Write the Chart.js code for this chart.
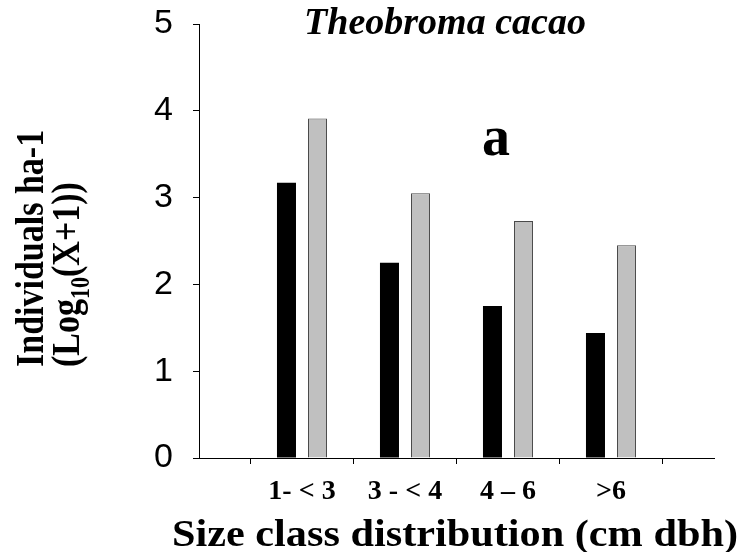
<!DOCTYPE html>
<html><head><meta charset="utf-8">
<script src="https://cdn.jsdelivr.net/npm/chart.js@4/dist/chart.umd.min.js"></script>
<style>html,body{margin:0;padding:0;background:#fff}#wrap{width:742px;height:552px}</style>
</head><body><div id="wrap"><canvas id="c" width="742" height="552"></canvas></div>
<script>
const categories = ['', '1- < 3', '3 - < 4', '4 \u2013 6', '>6', ''];
const blackSeries = [null, 3.17, 2.25, 1.75, 1.44, null];
const graySeries = [null, 3.91, 3.05, 2.73, 2.45, null];
const yTickValues = [0, 1, 2, 3, 4, 5];
const titleText = 'Theobroma cacao';
const panelLetter = 'a';
const xTitle = 'Size class distribution (cm dbh)';
const yTitleLine1 = 'Individuals ha-1';
const yTitleLine2 = ['(Log', '10', '(X+1))'];

const serif = '"Liberation Serif", "Times New Roman", serif';

function fitText(ctx, text, font, x, y, targetWidth, align) {
  ctx.font = font;
  const w = ctx.measureText(text).width;
  const s = targetWidth ? targetWidth / w : 1;
  ctx.save();
  ctx.translate(x, y);
  ctx.scale(s, 1);
  ctx.textAlign = align || 'center';
  ctx.textBaseline = 'alphabetic';
  ctx.fillText(text, 0, 0);
  ctx.restore();
}

const textPlugin = {
  id: 'texts',
  afterDraw(chart) {
    const ctx = chart.ctx;
    ctx.save();
    ctx.fillStyle = '#000';
    fitText(ctx, titleText, 'italic bold 38px ' + serif, 445, 34, 0, 'center');
    fitText(ctx, panelLetter, 'bold 56px ' + serif, 496, 155, 0, 'center');
    fitText(ctx, xTitle, 'bold 38px ' + serif, 455, 546, 566, 'center');
    // y title, rotated
    ctx.save();
    ctx.translate(43, 367);
    ctx.rotate(-Math.PI / 2);
    ctx.textAlign = 'left';
    ctx.textBaseline = 'alphabetic';
    ctx.save();
    ctx.scale(1, 1.2);
    ctx.font = 'bold 34px ' + serif;
    ctx.fillText(yTitleLine1, 0, 0);
    ctx.restore();
    ctx.translate(0, 36);
    ctx.scale(1, 1.2);
    let xp = 0;
    ctx.font = 'bold 34px ' + serif;
    ctx.fillText(yTitleLine2[0], xp, 0);
    xp += ctx.measureText(yTitleLine2[0]).width;
    ctx.font = 'bold 22px ' + serif;
    ctx.fillText(yTitleLine2[1], xp, 8);
    xp += ctx.measureText(yTitleLine2[1]).width;
    ctx.font = 'bold 34px ' + serif;
    ctx.fillText(yTitleLine2[2], xp, 0);
    ctx.restore();
    ctx.restore();
  }
};

new Chart(document.getElementById('c'), {
  type: 'bar',
  data: {
    labels: categories,
    datasets: [
      { label: 'A', data: blackSeries, backgroundColor: '#000000', borderColor: '#000000', borderWidth: 0,
        categoryPercentage: 0.6025, barPercentage: 0.613 },
      { label: 'B', data: graySeries, backgroundColor: '#c0c0c0', borderColor: '#4a4a4a', borderWidth: 1,
        categoryPercentage: 0.6025, barPercentage: 0.613 }
    ]
  },
  options: {
    responsive: false,
    animation: false,
    devicePixelRatio: 1,
    layout: { padding: { left: 0, right: 28, top: 24, bottom: 0 } },
    plugins: { legend: { display: false }, tooltip: { enabled: false }, title: { display: false } },
    scales: {
      x: {
        type: 'category',
        offset: false,
        grid: { display: true, drawOnChartArea: false, drawTicks: true, tickLength: 6, color: '#000', lineWidth: 1 },
        border: { display: true, color: '#000', width: 1 },
        ticks: {
          autoSkip: false, maxRotation: 0, padding: 11, color: '#000',
          font: { family: serif, size: 28, weight: 'bold' }
        },
        afterFit(s) { s.height = 94; s.paddingLeft = 0; s.paddingRight = 0; }
      },
      y: {
        min: yTickValues[0], max: yTickValues[yTickValues.length - 1],
        afterBuildTicks(s) { s.ticks = yTickValues.map(v => ({ value: v })); },
        grid: { display: true, drawOnChartArea: false, drawTicks: true, tickLength: 6, color: '#000', lineWidth: 1 },
        border: { display: true, color: '#000', width: 1 },
        ticks: {
          padding: 20, color: '#000',
          font: { family: '"Liberation Sans", Arial, sans-serif', size: 34 }
        },
        afterFit(s) { s.width = 199; s.paddingTop = 0; s.paddingBottom = 0; }
      }
    }
  },
  plugins: [textPlugin]
});
</script>
</body></html>
